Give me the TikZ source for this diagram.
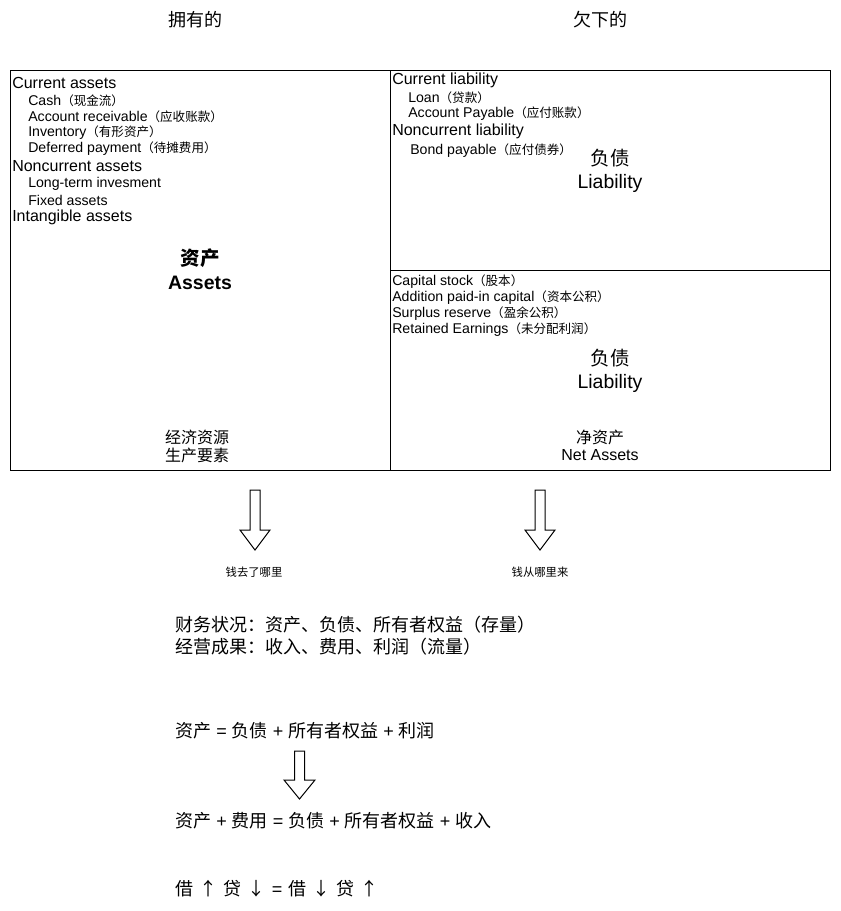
\documentclass[tikz,border=0pt]{standalone}
\usepackage{fontspec}
\setmainfont{Liberation Sans}
\newfontfamily\cjk{Noto Sans CJK SC}
\newcommand{\zh}[1]{{\cjk #1}}
\newcommand{\zhs}[1]{{\cjk\fontsize{9.4}{12}\selectfont #1}}
\newcommand{\gp}{\hspace{4.6pt}}
\tikzset{
  box/.style={draw=black, line width=0.75pt},
  blockarrow/.style={draw=black, line width=0.75pt, fill=white, line join=miter},
  lt/.style={inner sep=0pt, anchor=west},
  ct/.style={inner sep=0pt, anchor=center, align=center},
  ftitle/.style={font=\fontsize{13.5}{16}\selectfont},
  fbig/.style={font=\fontsize{14.6}{17}\selectfont},
  fmain/.style={font=\fontsize{13.5}{16}\selectfont},
  f14/.style={font=\fontsize{12}{14}\selectfont},
  f12/.style={font=\fontsize{10.6}{12}\selectfont},
  f10/.style={font=\fontsize{8.5}{10}\selectfont},
}
\begin{document}
\begin{tikzpicture}[x=0.75pt,y=-0.75pt]
\useasboundingbox (0,0) rectangle (841,911);
% titles
\node[ct,ftitle] (own) at (195,20) {\zh{拥有的}};
\node[ct,ftitle] (owe) at (600,20) {\zh{欠下的}};
% boxes
\draw[box] (10,70) rectangle (390,470);
\draw[box] (390,70) rectangle (830,270);
\draw[box] (390,270) rectangle (830,470);
% left box texts
\node[lt,f14] (ca) at (12,83) {Current assets};
\node[lt,f12] (cash) at (28,101) {Cash\zhs{（现金流）}};
\node[lt,f12] (ar) at (28,117) {Account receivable\zhs{（应收账款）}};
\node[lt,f12] (inv) at (28,133) {Inventory\zhs{（有形资产）}};
\node[lt,f12] (dp) at (28,149) {Deferred payment\zhs{（待摊费用）}};
\node[lt,f14] (nca) at (12,166) {Noncurrent assets};
\node[lt,f12] (lti) at (28,184) {Long-term invesment};
\node[lt,f12] (fa) at (28,200) {Fixed assets};
\node[lt,f14] (ia) at (12,217) {Intangible assets};
\node[ct,fbig] (assetszh) at (200,258) {\bfseries\zh{资产}};
\node[ct,fbig] (assetsen) at (200,283) {\bfseries Assets};
\node[ct,f14] (econ) at (197,437) {\zh{经济资源}};
\node[ct,f14] (prod) at (197,455) {\zh{生产要素}};
% right top texts
\node[lt,f14] (cl) at (392,80) {Current liability};
\node[lt,f12] (loan) at (408,98) {Loan\zhs{（贷款）}};
\node[lt,f12] (ap) at (408,114) {Account Payable\zhs{（应付账款）}};
\node[lt,f14] (ncl) at (392,131) {Noncurrent liability};
\node[lt,f12] (bp) at (410,151) {Bond payable\zhs{（应付债券）}};
\node[ct,fbig] (liabzh1) at (610,158) {\zh{负债}};
\node[ct,fbig] (liaben1) at (610,183) {Liability};
% right bottom texts
\node[lt,f12] (cs) at (392,282) {Capital stock\zhs{（股本）}};
\node[lt,f12] (apic) at (392,298) {Addition paid-in capital\zhs{（资本公积）}};
\node[lt,f12] (sr) at (392,314) {Surplus reserve\zhs{（盈余公积）}};
\node[lt,f12] (re) at (392,330) {Retained Earnings\zhs{（未分配利润）}};
\node[ct,fbig] (liabzh2) at (610,358) {\zh{负债}};
\node[ct,fbig] (liaben2) at (610,383) {Liability};
\node[ct,f14] (nazh) at (600,437) {\zh{净资产}};
\node[ct,f14] (naen) at (600,455) {Net Assets};
% block arrows
\draw[blockarrow] (250,490) -- (260,490) -- (260,530) -- (270,530) -- (255,550) -- (240,530) -- (250,530) -- cycle;
\draw[blockarrow] (535,490) -- (545,490) -- (545,530) -- (555,530) -- (540,550) -- (525,530) -- (535,530) -- cycle;
\node[ct,f10] (where1) at (254,572) {\zh{钱去了哪里}};
\node[ct,f10] (where2) at (540,572) {\zh{钱从哪里来}};
% bottom texts
\node[lt,fmain] (fin1) at (175,625) {\zh{财务状况：资产、负债、所有者权益（存量）}};
\node[lt,fmain] (fin2) at (175,647) {\zh{经营成果：收入、费用、利润（流量）}};
\node[lt,fmain] (eq1) at (175,731) {\zh{资产} = \zh{负债} + \zh{所有者权益} + \zh{利润}};
\draw[blockarrow] (294.5,751) -- (304.5,751) -- (304.5,780) -- (315,780) -- (299.5,799) -- (284,780) -- (294.5,780) -- cycle;
\node[lt,fmain] (eq2) at (175,821) {\zh{资产} + \zh{费用} = \zh{负债} + \zh{所有者权益} + \zh{收入}};
\node[lt,fmain] (eq3) at (175,889) {\zh{借\gp{}↑\gp{}贷\gp{}↓}\gp{}=\gp{}\zh{借\gp{}↓\gp{}贷\gp{}↑}};
\end{tikzpicture}
\end{document}
